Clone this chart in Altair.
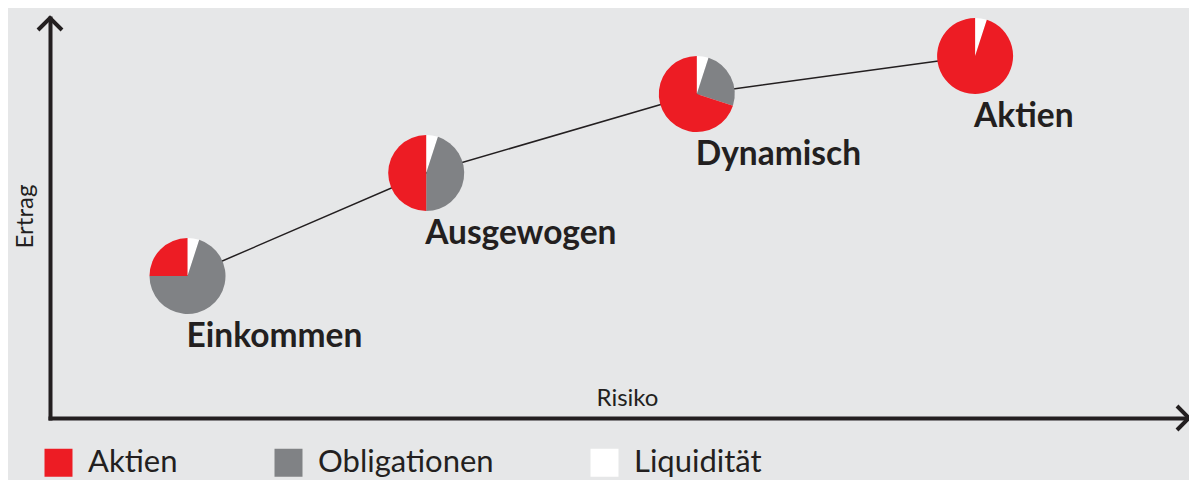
import altair as alt
import pandas as pd

# Portfolios (position on the Risiko/Ertrag plane)
portfolios = ["Einkommen", "Ausgewogen", "Dynamisch", "Aktien"]
risiko = [12.5, 34.2, 58.8, 84.1]
ertrag = [35.5, 61.25, 81.0, 90.5]

# Asset allocation per portfolio (percent)
anlagen = ["Aktien", "Obligationen", "Liquidität"]
aktien = [25, 50, 70, 95]
obligationen = [70, 45, 25, 0]
liquiditaet = [5, 5, 5, 5]

# Axis ends (arrow heads)
X_MAX = 103.545
arrow_x = [0, X_MAX]
arrow_y = [100, 0]
arrow_angle = [0, 90]

colors = ["#ED1C24", "#808285", "#FFFFFF"]
ink = "#231F20"
font = "Lato"

pos = pd.DataFrame({"portfolio": portfolios, "risiko": risiko, "ertrag": ertrag})

rows = []
for i, p in enumerate(portfolios):
    # clockwise from 12 o'clock: Liquidität, Obligationen, Aktien
    for order, (name, vals) in enumerate([("Liquidität", liquiditaet),
                                          ("Obligationen", obligationen),
                                          ("Aktien", aktien)]):
        rows.append({"portfolio": p, "risiko": risiko[i], "ertrag": ertrag[i],
                     "anlage": name, "wert": vals[i], "order": order})
pies_df = pd.DataFrame(rows)

arrows_df = pd.DataFrame({"risiko": arrow_x, "ertrag": arrow_y, "angle": arrow_angle})

x_enc = alt.X("risiko:Q", scale=alt.Scale(domain=[0, X_MAX], nice=False, zero=False),
              axis=alt.Axis(title="Risiko", ticks=False, labels=False, grid=False,
                            domainColor=ink, domainWidth=4, domainCap="square",
                            titleX=577, titleY=-13, titleAlign="center",
                            titleBaseline="alphabetic", titleFont=font,
                            titleFontSize=24, titleFontWeight="normal", titleColor=ink))
y_enc = alt.Y("ertrag:Q", scale=alt.Scale(domain=[0, 100], nice=False, zero=False),
              axis=alt.Axis(title="Ertrag", ticks=False, labels=False, grid=False,
                            domainColor=ink, domainWidth=4, domainCap="square",
                            titleX=-18, titleY=198, titleAngle=270, titleAlign="center",
                            titleBaseline="alphabetic", titleFont=font,
                            titleFontSize=24, titleFontWeight="normal", titleColor=ink))

line = alt.Chart(pos).mark_line(color=ink, strokeWidth=1.5).encode(
    x=x_enc, y=y_enc, order="risiko:Q")

pies = alt.Chart(pies_df).transform_stack(
    stack="wert", groupby=["portfolio"], as_=["t0", "t1"],
    offset="normalize", sort=[alt.SortField("order", order="ascending")]
).mark_arc(radius=38, stroke=None).encode(
    x=x_enc, y=y_enc,
    theta=alt.Theta("t0:Q", scale=alt.Scale(domain=[0, 1], range=[0, 6.283185307])),
    theta2="t1:Q",
    color=alt.Color("anlage:N",
                    scale=alt.Scale(domain=anlagen, range=colors),
                    legend=alt.Legend(title=None, orient="none", direction="horizontal",
                                      legendX=-7, legendY=429, padding=0,
                                      symbolType="square", symbolSize=784,
                                      symbolStrokeWidth=0, symbolOpacity=1,
                                      labelFont=font, labelFontSize=31, labelColor=ink,
                                      labelOffset=14, labelLimit=400,
                                      columnPadding=95)),
)

labels = alt.Chart(pos).mark_text(align="left", baseline="alphabetic", dx=-1, dy=71,
                                  font=font, fontSize=33.5, fontWeight="bold",
                                  color=ink).encode(
    x=x_enc, y=y_enc, text="portfolio:N")

arrows = alt.Chart(arrows_df).mark_point(
    shape="M-1,1L0,0L1,1", size=576, filled=False, stroke=ink, strokeWidth=4,
    opacity=1, strokeJoin="miter", strokeCap="butt"
).encode(x=x_enc, y=y_enc, angle=alt.Angle("angle:Q", scale=None))

chart = alt.layer(line, pies, labels, arrows).properties(
    width=1139, height=400,
    padding={"left": 42, "top": 10, "right": 0, "bottom": 62},
    autosize=alt.AutoSizeParams(type="none"),
    background="#E6E7E8",
).configure_view(stroke=None)

chart.save("out.html", embed_options={"renderer": "svg", "actions": False})
